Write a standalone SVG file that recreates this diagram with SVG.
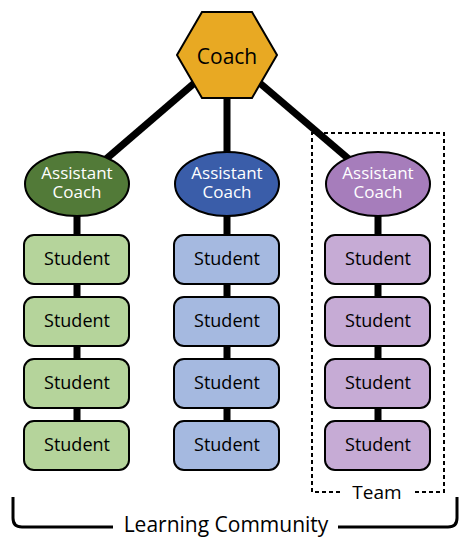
<svg xmlns="http://www.w3.org/2000/svg" width="468" height="542" viewBox="0 0 468 542">
<style>
text{font-family:"Open Sans","Noto Sans","Liberation Sans",sans-serif;text-anchor:middle}
.lbl{font-size:18px;fill:#000}
.ac{font-size:17px;fill:#fff}
.stu{stroke:#000;stroke-width:2}
.g{fill:#b5d49b}.b{fill:#a5b9e0}.p{fill:#c6abd5}
.conn{stroke:#000;stroke-width:7;fill:none}
</style>
<rect width="468" height="542" fill="#fff"/>
<g id="connectors">
<line class="conn" x1="227" y1="55" x2="77" y2="184"/>
<line class="conn" x1="227" y1="55" x2="227" y2="184"/>
<line class="conn" x1="227" y1="55" x2="378" y2="184"/>
<line class="conn" x1="77" y1="184" x2="77" y2="446"/>
<line class="conn" x1="227" y1="184" x2="227" y2="446"/>
<line class="conn" x1="378" y1="184" x2="378" y2="446"/>
</g>
<g id="team">
<path d="M340 492 H312 V133 H444 V492 H414" fill="none" stroke="#000" stroke-width="2" stroke-dasharray="4,3"/>
<text x="377" y="499" style="font-size:19px">Team</text>
</g>
<g id="community">
<path d="M13 497 V518 Q13 527 22 527 H113 M338 527 H448 Q457 527 457 518 V497" fill="none" stroke="#000" stroke-width="3"/>
<text x="226" y="532" style="font-size:21px">Learning Community</text>
</g>
<g id="coach">
<polygon points="202,12 252,12 277,55 252,98 202,98 177,55" fill="#e8a923" stroke="#000" stroke-width="2"/>
<text x="227" y="64" style="font-size:21px">Coach</text>
</g>
<g id="ac-green">
<ellipse cx="77" cy="184" rx="52" ry="32" fill="#527a38" stroke="#000" stroke-width="2"/>
<text class="ac" x="77" y="179">Assistant</text><text class="ac" x="77" y="198">Coach</text>
</g>
<g id="ac-blue">
<ellipse cx="227" cy="184" rx="52" ry="32" fill="#3a5da9" stroke="#000" stroke-width="2"/>
<text class="ac" x="227" y="179">Assistant</text><text class="ac" x="227" y="198">Coach</text>
</g>
<g id="ac-purple">
<ellipse cx="378" cy="184" rx="52" ry="32" fill="#a67dbb" stroke="#000" stroke-width="2"/>
<text class="ac" x="378" y="179">Assistant</text><text class="ac" x="378" y="198">Coach</text>
</g>
<g id="s-g1"><rect class="stu g" x="24" y="235" width="105" height="49" rx="10"/><text class="lbl" x="77" y="265">Student</text></g>
<g id="s-g2"><rect class="stu g" x="24" y="297" width="105" height="49" rx="10"/><text class="lbl" x="77" y="327">Student</text></g>
<g id="s-g3"><rect class="stu g" x="24" y="359" width="105" height="49" rx="10"/><text class="lbl" x="77" y="389">Student</text></g>
<g id="s-g4"><rect class="stu g" x="24" y="421" width="105" height="49" rx="10"/><text class="lbl" x="77" y="451">Student</text></g>
<g id="s-b1"><rect class="stu b" x="174" y="235" width="105" height="49" rx="10"/><text class="lbl" x="227" y="265">Student</text></g>
<g id="s-b2"><rect class="stu b" x="174" y="297" width="105" height="49" rx="10"/><text class="lbl" x="227" y="327">Student</text></g>
<g id="s-b3"><rect class="stu b" x="174" y="359" width="105" height="49" rx="10"/><text class="lbl" x="227" y="389">Student</text></g>
<g id="s-b4"><rect class="stu b" x="174" y="421" width="105" height="49" rx="10"/><text class="lbl" x="227" y="451">Student</text></g>
<g id="s-p1"><rect class="stu p" x="325" y="235" width="105" height="49" rx="10"/><text class="lbl" x="378" y="265">Student</text></g>
<g id="s-p2"><rect class="stu p" x="325" y="297" width="105" height="49" rx="10"/><text class="lbl" x="378" y="327">Student</text></g>
<g id="s-p3"><rect class="stu p" x="325" y="359" width="105" height="49" rx="10"/><text class="lbl" x="378" y="389">Student</text></g>
<g id="s-p4"><rect class="stu p" x="325" y="421" width="105" height="49" rx="10"/><text class="lbl" x="378" y="451">Student</text></g>
</svg>
